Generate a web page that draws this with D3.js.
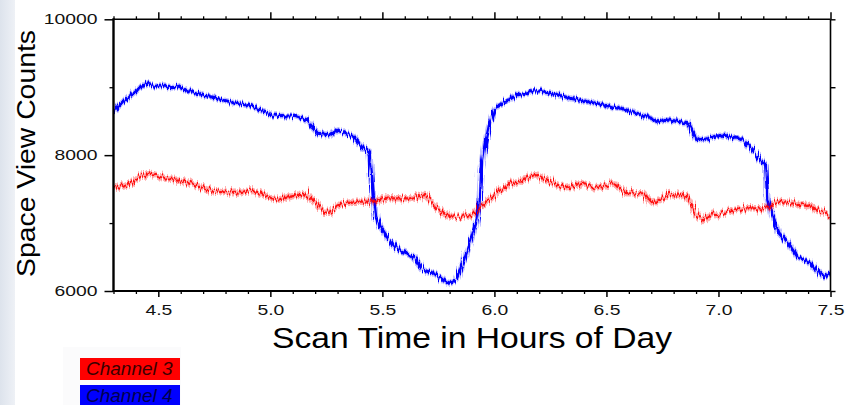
<!DOCTYPE html>
<html>
<head>
<meta charset="utf-8">
<script src="https://cdn.jsdelivr.net/npm/d3@7"></script>
<style>
  html, body { margin: 0; padding: 0; background: #fff; }
  svg { display: block; font-family: "Liberation Sans", Arial, Helvetica, sans-serif; }
</style>
</head>
<body>
<svg id="chart" width="847" height="405"></svg>
<script>
// Scan time (hours of day) and space view counts, Channel 3
const ch3Hours = [4.30, 4.36, 4.405, 4.45, 4.48, 4.54, 4.60, 4.67, 4.73, 4.775, 4.84, 4.91, 4.97, 5.03, 5.09, 5.15, 5.19, 5.24, 5.27, 5.31, 5.37, 5.45, 5.53, 5.62, 5.69, 5.74, 5.80, 5.86, 5.91, 5.95, 6.01, 6.08, 6.15, 6.19, 6.25, 6.32, 6.37, 6.45, 6.53, 6.59, 6.66, 6.71, 6.78, 6.86, 6.90, 6.94, 6.98, 7.05, 7.11, 7.21, 7.26, 7.33, 7.40, 7.46, 7.50];
const ch3Counts = [7512, 7561, 7660, 7733, 7708, 7660, 7635, 7561, 7462, 7487, 7439, 7487, 7414, 7340, 7389, 7428, 7340, 7168, 7168, 7267, 7315, 7315, 7365, 7365, 7414, 7242, 7094, 7094, 7144, 7267, 7439, 7586, 7684, 7708, 7610, 7512, 7586, 7512, 7586, 7439, 7439, 7291, 7414, 7389, 7144, 7045, 7119, 7168, 7217, 7217, 7315, 7291, 7267, 7168, 7070];

// Channel 4
const ch4Hours = [4.30, 4.36, 4.40, 4.45, 4.49, 4.58, 4.67, 4.775, 4.84, 4.91, 5.01, 5.12, 5.16, 5.21, 5.27, 5.30, 5.37, 5.41, 5.44, 5.45, 5.46, 5.47, 5.49, 5.53, 5.58, 5.64, 5.68, 5.73, 5.78, 5.80, 5.83, 5.86, 5.89, 5.92, 5.93, 5.94, 5.96, 5.98, 6.00, 6.04, 6.10, 6.19, 6.25, 6.34, 6.45, 6.52, 6.61, 6.70, 6.73, 6.78, 6.86, 6.87, 6.90, 6.93, 6.98, 7.02, 7.11, 7.15, 7.18, 7.21, 7.22, 7.24, 7.27, 7.31, 7.35, 7.40, 7.44, 7.47, 7.50];
const ch4Counts = [8665, 8830, 8950, 9062, 9018, 9008, 8911, 8822, 8768, 8728, 8591, 8566, 8518, 8322, 8297, 8370, 8272, 8125, 8051, 7782, 7389, 7094, 6947, 6751, 6579, 6505, 6310, 6261, 6137, 6114, 6163, 6408, 6703, 7002, 7193, 7782, 8178, 8473, 8665, 8768, 8886, 8949, 8911, 8837, 8764, 8714, 8640, 8543, 8493, 8518, 8478, 8419, 8248, 8223, 8272, 8297, 8223, 8076, 7954, 7855, 7340, 7094, 6854, 6703, 6505, 6432, 6310, 6211, 6261];

const xTickLabels = ["4.5", "5.0", "5.5", "6.0", "6.5", "7.0", "7.5"];
const yTickLabels = ["6000", "8000", "10000"];
const seriesNames = ["Channel 3", "Channel 4"];
const seriesColors = ["#ff0000", "#0000ff"];

const svg = d3.select("#chart");
const W = 847, H = 405;

// slide-style pale strip on the left edge
const defs = svg.append("defs");
const edge = defs.append("linearGradient").attr("id", "edge").attr("x1", 0).attr("x2", 1);
edge.append("stop").attr("offset", "0%").attr("stop-color", "#dde3ec");
edge.append("stop").attr("offset", "100%").attr("stop-color", "#eef1f6");
svg.append("rect").attr("x", 0).attr("y", 0).attr("width", W).attr("height", H).attr("fill", "#fff");
svg.append("rect").attr("x", 0).attr("y", 0).attr("width", 15).attr("height", H).attr("fill", "url(#edge)");

// jagged look for the noisy detector traces
function jitterFilter(id, scale, seed) {
  const f = defs.append("filter").attr("id", id)
    .attr("filterUnits", "userSpaceOnUse")
    .attr("x", 100).attr("y", 0).attr("width", 750).attr("height", 310);
  f.append("feTurbulence").attr("type", "fractalNoise")
    .attr("baseFrequency", "0.85 0.03").attr("numOctaves", 2).attr("seed", seed).attr("result", "n");
  f.append("feDisplacementMap").attr("in", "SourceGraphic").attr("in2", "n")
    .attr("scale", scale).attr("xChannelSelector", "B").attr("yChannelSelector", "G");
}
jitterFilter("jit3", 12, 4);
jitterFilter("jit4", 8, 11);

const pL = 113.5, pR = 830.5, pT = 19.3, pB = 291;
const x = d3.scaleLinear().domain([4.3, 7.5]).range([pL, pR]);
const y = d3.scaleLinear().domain([6000, 10000]).range([pB, pT]);

defs.append("clipPath").attr("id", "plotclip").append("rect")
  .attr("x", pL).attr("y", pT).attr("width", pR - pL).attr("height", pB - pT);

const line = d3.line().x(d => x(d[0])).y(d => y(d[1]));
const ch3 = ch3Hours.map((h, i) => [h, ch3Counts[i]]);
const ch4 = ch4Hours.map((h, i) => [h, ch4Counts[i]]);

const plot = svg.append("g").attr("clip-path", "url(#plotclip)");
function trace(data, color, filterId, band, core, bandOpacity, coreOpacity) {
  const g = plot.append("g").attr("filter", `url(#${filterId})`);
  g.append("path").datum(data).attr("d", line).attr("fill", "none")
    .attr("stroke", color).attr("stroke-width", band).attr("stroke-opacity", bandOpacity)
    .attr("stroke-linejoin", "round");
  g.append("path").datum(data).attr("d", line).attr("fill", "none")
    .attr("stroke", color).attr("stroke-width", core).attr("stroke-opacity", coreOpacity)
    .attr("stroke-linejoin", "round");
}
trace(ch4, seriesColors[1], "jit4", 6, 3.2, 0.25, 1);
trace(ch3, seriesColors[0], "jit3", 6.5, 2.2, 0.32, 0.9);

// axes: minor ticks every 0.1 h / 1000 counts, labelled majors every 0.5 h / 2000 counts
const xMajor = xTickLabels.map(Number);
const xMinor = d3.range(43, 76).map(v => v / 10).filter(v => !xMajor.some(m => Math.abs(m - v) < 1e-6));
const yMajor = yTickLabels.map(Number);
const yMinor = [7000, 9000];

// tick labels are set wide: 14px glyphs stretched horizontally
function styleAxis(g, w) {
  g.select(".domain").remove();
  g.selectAll("line").attr("stroke", "#000").attr("stroke-width", w);
  g.selectAll("text").attr("fill", "#111").attr("font-size", 14)
    .attr("font-family", "\"Liberation Sans\", Arial, sans-serif")
    .each(function () {
      const len = this.getComputedTextLength();
      if (len > 0) d3.select(this).attr("textLength", len * 1.38).attr("lengthAdjust", "spacingAndGlyphs");
    });
}

// bottom
const bx = svg.append("g").attr("transform", `translate(0,${pB})`);
bx.append("g").call(d3.axisBottom(x).tickValues(xMinor).tickSize(3).tickFormat(""))
  .call(g => styleAxis(g, 1.3));
bx.append("g").call(d3.axisBottom(x).tickValues(xMajor).tickSize(6).tickPadding(8)
  .tickFormat((d, i) => xTickLabels[i])).call(g => styleAxis(g, 1.5));

// top
const tx = svg.append("g").attr("transform", `translate(0,${pT})`);
tx.append("g").call(d3.axisTop(x).tickValues(xMinor).tickSize(3).tickFormat("")).call(g => styleAxis(g, 1.3));
tx.append("g").call(d3.axisTop(x).tickValues(xMajor).tickSize(7).tickFormat("")).call(g => styleAxis(g, 1.5));

// left
const ly = svg.append("g").attr("transform", `translate(${pL},0)`);
ly.append("g").call(d3.axisLeft(y).tickValues(yMinor).tickSize(4).tickFormat("")).call(g => styleAxis(g, 1.3));
ly.append("g").call(d3.axisLeft(y).tickValues(yMajor).tickSize(9).tickPadding(7)
  .tickFormat((d, i) => yTickLabels[i])).call(g => styleAxis(g, 1.5));

// right
const ry = svg.append("g").attr("transform", `translate(${pR},0)`);
ry.append("g").call(d3.axisRight(y).tickValues(yMinor.concat(yMajor)).tickSize(5).tickFormat(""))
  .call(g => styleAxis(g, 1.4));

// frame
svg.append("line").attr("x1", pL).attr("x2", pR).attr("y1", pT).attr("y2", pT)
  .attr("stroke", "#000").attr("stroke-width", 1.6);
svg.append("line").attr("x1", pR).attr("x2", pR).attr("y1", pT).attr("y2", pB)
  .attr("stroke", "#000").attr("stroke-width", 1.6);
svg.append("line").attr("x1", pL).attr("x2", pR).attr("y1", pB).attr("y2", pB)
  .attr("stroke", "#000").attr("stroke-width", 2.2);
svg.append("line").attr("x1", pL).attr("x2", pL).attr("y1", pT - 1).attr("y2", pB + 1)
  .attr("stroke", "#000").attr("stroke-width", 2.4);

// axis titles
svg.append("text").attr("x", 472).attr("y", 348)
  .attr("text-anchor", "middle").attr("font-size", 30).attr("fill", "#000")
  .attr("textLength", 400).attr("lengthAdjust", "spacingAndGlyphs")
  .text("Scan Time in Hours of Day");
svg.append("text").attr("transform", `translate(35,153.5) rotate(-90)`)
  .attr("text-anchor", "middle").attr("font-size", 26).attr("fill", "#000")
  .attr("textLength", 247).attr("lengthAdjust", "spacingAndGlyphs")
  .text("Space View Counts");

// legend
const legend = svg.append("g");
legend.append("rect").attr("x", 63).attr("y", 347).attr("width", 118).attr("height", 58).attr("fill", "#fbfbfc");
const textColors = ["#3a0000", "#000050"];
seriesNames.forEach((name, i) => {
  const yy = 358 + i * 27;
  legend.append("rect").attr("x", 80).attr("y", yy).attr("width", 100).attr("height", 22)
    .attr("fill", seriesColors[i]);
  legend.append("text").attr("x", 86).attr("y", yy + 17).attr("font-size", 19)
    .attr("font-style", "italic").attr("fill", textColors[i]).text(name);
});
</script>
</body>
</html>
